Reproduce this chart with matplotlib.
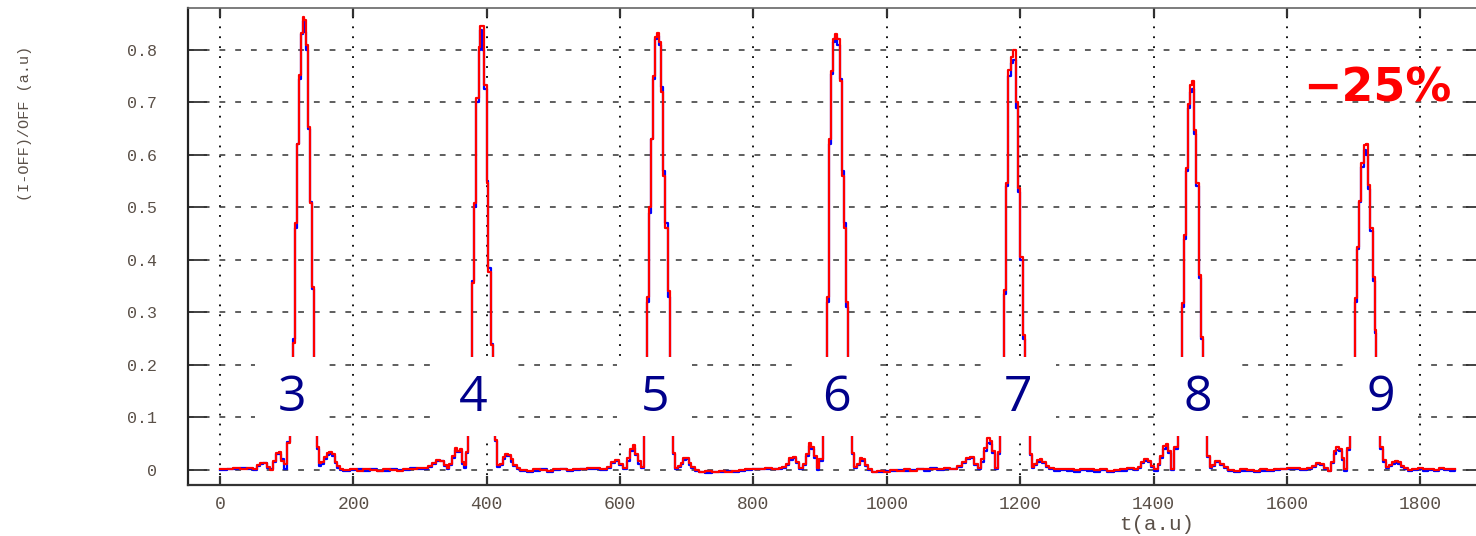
import matplotlib.pyplot as plt
from matplotlib.patches import Rectangle

# tiempo (a.u) y las dos señales (roja encima, azul debajo)
t = [0, 10, 20, 30, 40, 50,
     55, 60, 65, 70, 75, 80, 84, 88, 92, 96, 100,
     105, 109, 112, 115, 118, 121, 124, 126.5, 129, 131.5, 135, 138, 141, 146,
     149, 152, 156, 160, 164, 168, 172, 176, 180,
     185, 195, 205, 215, 225, 235, 245, 255, 265, 275, 285, 295, 305,
     312, 318, 324, 330, 336, 340, 344, 348, 352, 356, 360, 363, 366, 369,
     372.5, 378.5, 381.5, 384.5, 388, 390.5, 393, 395.5, 400, 402.5, 406, 410, 412.5,
     416, 420, 424, 428, 432, 436, 440, 445,
     450, 460, 470, 480, 490, 500, 510, 520, 530, 540, 550, 560, 570,
     580, 586, 592, 598, 604, 610, 615, 619, 623, 627, 631,
     636.5, 640, 643.5, 646.5, 649.5, 652.5, 655.5, 658.5, 661.5, 664.5, 668, 671.5, 675, 680,
     683, 687, 691, 695, 699, 703, 707, 712,
     718, 728, 738, 748, 758, 768, 778, 788, 798, 808, 818, 828, 838,
     843, 849, 854, 859, 864, 869, 874, 879, 883, 887, 891, 895, 899,
     904, 910, 913, 916, 919, 922, 925.5, 929, 932, 935, 938.5, 941, 947.5,
     951, 955, 959, 963, 967, 972, 977,
     985, 995, 1005, 1015, 1025, 1035, 1045, 1055, 1065, 1075, 1085, 1095, 1105,
     1112, 1118, 1124, 1130, 1136, 1141, 1146, 1150, 1154, 1158, 1162, 1166,
     1170, 1175, 1178.5, 1181.5, 1185.5, 1188.5, 1194, 1197, 1200, 1204, 1207, 1214,
     1217, 1221, 1225, 1229, 1233, 1238, 1243,
     1250, 1260, 1270, 1280, 1290, 1300, 1310, 1320, 1330, 1340, 1350, 1360, 1370,
     1376, 1381, 1386, 1391, 1396, 1401, 1406, 1410, 1414, 1418, 1422, 1426, 1431,
     1436.5, 1442.5, 1445.5, 1448.5, 1451.5, 1455, 1457.5, 1461, 1464, 1467.5, 1471, 1474, 1480,
     1484, 1488, 1492, 1496, 1500, 1505, 1512,
     1520, 1530, 1540, 1550, 1560, 1570, 1580, 1590, 1600, 1610, 1620, 1630,
     1638, 1644, 1650, 1656, 1661, 1666, 1670, 1674, 1678, 1682, 1686, 1690,
     1695, 1702.5, 1705, 1708.5, 1711.5, 1715, 1718, 1721.5, 1725, 1728.5, 1731.5, 1734, 1740,
     1744, 1748, 1753, 1758, 1762, 1766, 1771, 1776, 1781,
     1788, 1796, 1804, 1812, 1820, 1828, 1836, 1844, 1852]

rojo = [.002, .001, .003, .002, .004, .001,
        .010, .014, .013, .006, .000, .018, .032, .034, .018, .012, .052,
        .13, .242, .47, .62, .752, .832, .862, .857, .81, .654, .508, .349, .14, .044,
        .013, .015, .024, .032, .034, .030, .016, .008, .001,
        .000, .002, -.001, .001, .000, -.002, .001, .000, -.001, .002, .001, .003, .004,
        .008, .014, .019, .017, .010, .003, .012, .026, .042, .036, .040, .016, .009, .035,
        .13, .356, .508, .708, .806, .846, .845, .733, .546, .378, .238, .14, .057,
        .010, .012, .024, .030, .029, .020, .010, .003,
        .000, -.002, .001, .000, -.001, .001, .002, .000, .001, .002, .004, .003, .001,
        .006, .016, .019, .012, .003, .022, .040, .048, .030, .017, .006,
        .13, .33, .50, .63, .75, .825, .832, .815, .72, .56, .46, .34, .14, .032,
        .003, .008, .014, .022, .022, .013, .006, .000,
        -.003, -.002, -.003, -.002, -.003, -.002, .000, .001, .002, .001, .003, .002, .004,
        .006, .012, .022, .024, .016, .004, .012, .030, .051, .044, .026, .003, .020,
        .14, .33, .63, .76, .82, .83, .82, .74, .56, .46, .32, .14, .032,
        .006, .012, .022, .020, .010, .002, -.003,
        -.002, -.003, .000, -.001, .001, -.001, .002, .001, .002, .001, .003, .002, .008,
        .016, .022, .024, .012, .003, .020, .042, .060, .055, .036, .003, .034,
        .14, .343, .546, .762, .787, .80, .70, .537, .406, .257, .14, .03,
        .006, .012, .019, .020, .016, .008, .003,
        .001, .002, .001, .000, .002, .001, .000, .002, -.001, .000, .001, .004, .001,
        .006, .016, .020, .018, .008, .001, .012, .026, .046, .050, .036, .002, .043,
        .14, .318, .448, .575, .698, .733, .74, .648, .546, .371, .254, .14, .027,
        .006, .010, .018, .018, .012, .006, .000,
        -.001, .001, .000, -.002, .001, .000, .002, .001, .003, .004, .002, .003,
        .008, .013, .012, .004, -.001, .016, .036, .043, .040, .022, .001, .041,
        .14, .327, .425, .513, .584, .619, .62, .543, .461, .368, .267, .14, .044,
        .019, .006, .010, .016, .018, .015, .008, .004, .000,
        .002, .004, .001, .002, .000, .003, .002, .001, .001]

azul = [.000, .002, .001, .003, .002, .000,
        .008, .012, .014, .004, .001, .015, .030, .031, .020, .002, .054,
        .13, .25, .46, .62, .745, .83, .855, .835, .80, .65, .51, .345, .14, .040,
        .008, .012, .020, .028, .031, .026, .013, .004, .000,
        -.002, .000, .001, -.001, .002, -.001, -.002, .001, .000, .000, .003, .001, .002,
        .006, .012, .017, .018, .008, .001, .010, .022, .038, .035, .036, .012, .004, .033,
        .13, .36, .50, .70, .80, .838, .80, .725, .55, .385, .24, .14, .055,
        .006, .010, .020, .027, .026, .016, .007, .001,
        -.002, -.003, -.001, .001, -.003, .000, .001, -.002, .000, .001, .002, .001, .000,
        .004, .014, .017, .010, .001, .018, .036, .042, .028, .012, .004,
        .13, .32, .49, .63, .745, .82, .826, .81, .73, .57, .47, .33, .14, .030,
        .001, .006, .011, .019, .020, .010, .004, -.002,
        -.004, -.005, -.003, -.004, -.002, -.004, -.001, .000, .001, .002, .001, .001, .002,
        .004, .010, .019, .022, .013, .001, .010, .026, .046, .040, .022, .000, .017,
        .14, .32, .62, .755, .815, .825, .81, .745, .57, .47, .31, .14, .030,
        .004, .009, .019, .018, .007, .000, -.004,
        -.004, -.002, -.002, .000, -.001, .000, .001, -.001, .003, .000, .002, .001, .006,
        .013, .020, .022, .010, .001, .016, .036, .052, .050, .032, .001, .030,
        .14, .335, .54, .75, .775, .78, .69, .53, .40, .25, .14, .028,
        .004, .009, .016, .018, .013, .005, .001,
        -.001, .000, -.002, -.003, .000, -.002, -.003, .000, -.003, -.002, -.001, .002, .000,
        .004, .013, .018, .016, .006, -.001, .010, .022, .040, .044, .032, .000, .040,
        .14, .31, .44, .57, .69, .72, .725, .64, .54, .365, .25, .14, .025,
        .003, .007, .015, .016, .009, .003, -.002,
        -.003, -.001, -.002, -.003, -.001, -.002, .000, .002, .001, .002, .000, .001,
        .006, .011, .010, .002, -.002, .013, .031, .038, .036, .019, -.001, .038,
        .14, .32, .42, .51, .578, .61, .60, .535, .455, .36, .26, .14, .040,
        .016, .004, .007, .012, .014, .011, .005, .001, -.002,
        .000, .001, -.001, .000, -.002, .001, .000, -.001, .000]

# numeros de pulso y donde van
pulsos = ['3', '4', '5', '6', '7', '8', '9']
pulsos_t = [108, 380, 652, 925, 1197, 1467, 1740]

fig = plt.figure(figsize=(14.76, 5.36), dpi=100)
ax = fig.add_axes([188/1476, 1 - 485/536, (1485 - 188)/1476, (485 - 8)/536])

ax.step(t, azul, where='post', color='#0000ff', linewidth=1.6, zorder=2)
ax.step(t, rojo, where='post', color='#ff0000', linewidth=1.6, zorder=3)

ax.set_xlim(-48, 1897)
ax.set_ylim(-0.0286, 0.88)
ax.set_xticks(range(0, 2000, 200))
ax.set_yticks([0, 0.1, 0.2, 0.3, 0.4, 0.5, 0.6, 0.7, 0.8])
ax.set_yticklabels(['0', '0.1', '0.2', '0.3', '0.4', '0.5', '0.6', '0.7', '0.8'])

ax.grid(axis='x', color='black', linestyle=(0, (1, 4.5)), linewidth=1.3, zorder=1)
ax.grid(axis='y', color='#333333', linestyle=(0, (3.8, 6.5)), linewidth=1.1, zorder=1)
ax.set_axisbelow(True)

ax.tick_params(axis='y', direction='in', length=14, width=1.3, left=True, right=True,
               color='#333333', pad=22, labelsize=12, labelcolor='#5a5048')
ax.tick_params(axis='x', direction='in', length=6.5, width=1.6, top=True, bottom=True,
               color='#333333', pad=8, labelsize=13, labelcolor='#5a5048')
for lab in ax.get_xticklabels() + ax.get_yticklabels():
    lab.set_family('Liberation Mono')

ax.spines['left'].set_linewidth(1.6)
ax.spines['left'].set_color('#222222')
ax.spines['bottom'].set_linewidth(1.6)
ax.spines['bottom'].set_color('#333333')
ax.spines['top'].set_linewidth(1.2)
ax.spines['top'].set_color('#666666')

# tapar con blanco la zona de los numeros
for nombre, tp in zip(pulsos, pulsos_t):
    ax.add_patch(Rectangle((tp - 56, 0.065), 112, 0.15, facecolor='white',
                           edgecolor='none', zorder=4))
    ax.text(tp, 0.137, nombre, fontsize=36, color='#00008b', family='Open Sans',
            ha='center', va='center', zorder=5)

ax.text(1735, 0.726, '\u221225%', fontsize=33, fontweight='bold', color='#ff0000',
        family='DejaVu Sans', ha='center', va='center', zorder=5)

fig.text(25/1476, 1 - 123/536, '(I-OFF)/OFF (a.u)', rotation=90, family='Liberation Mono',
         fontsize=11, color='#5a5048', ha='center', va='center')
fig.text(1157/1476, 1 - 525/536, 't(a.u)', family='Liberation Mono',
         fontsize=15, color='#5a5048', ha='center', va='center')

fig.savefig('out.png', dpi=100)
